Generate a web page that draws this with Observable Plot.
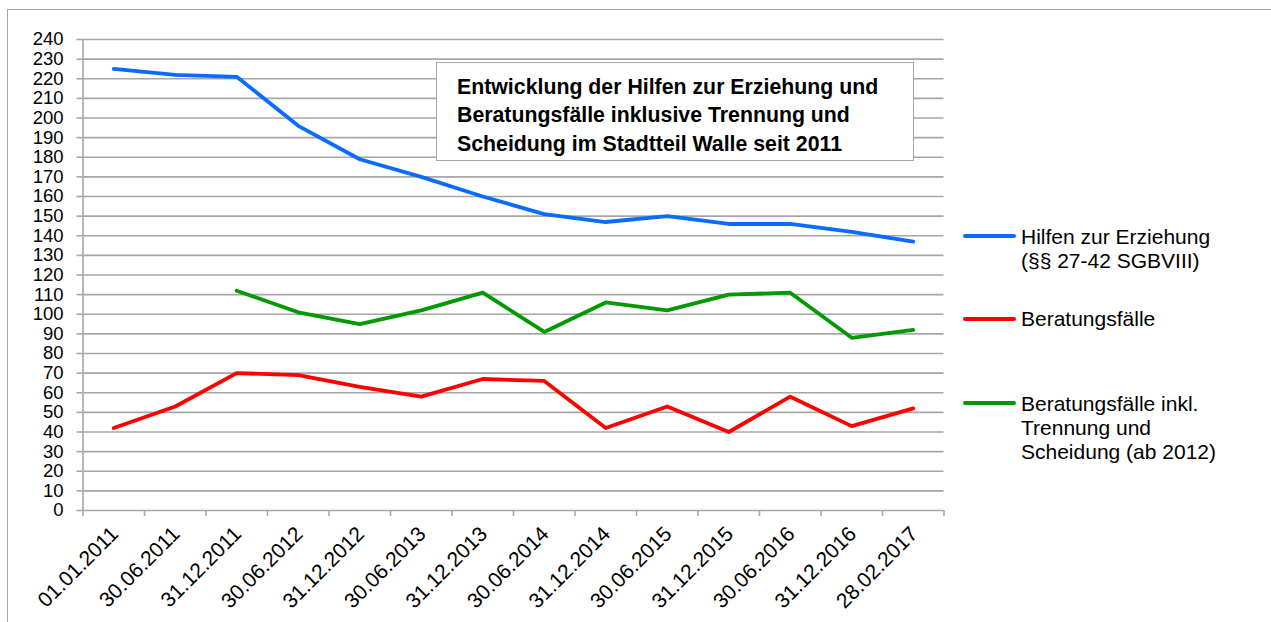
<!DOCTYPE html>
<html>
<head>
<meta charset="utf-8">
<script src="https://cdn.jsdelivr.net/npm/d3@7"></script>
<script src="https://cdn.jsdelivr.net/npm/@observablehq/plot@0.6"></script>
<style>
  html, body { margin: 0; padding: 0; background: #fff; }
  body { font-family: "Liberation Sans", Arial, sans-serif; }
  #wrap { position: relative; width: 1271px; height: 622px; overflow: hidden; }
  #frame { position: absolute; left: 7px; top: 9px; width: 1400px; height: 800px;
           border-left: 1.5px solid #a6a6a6; border-top: 1.5px solid #a6a6a6; box-sizing: border-box; }
  #titlebox { position: absolute; left: 436px; top: 62px; width: 478px; height: 99px; box-sizing: border-box;
              border: 1.5px solid #a6a6a6; background: #fff; }
  #titletext { position: absolute; left: 457px; top: 72.5px; font-weight: bold; font-size: 21.3px;
               line-height: 28.5px; color: #000; white-space: nowrap; }
  .leg { position: absolute; left: 1021px; font-size: 21px; line-height: 24px; color: #000; white-space: nowrap; }
  .sw { position: absolute; left: 963px; width: 53px; height: 4px; border-radius: 2px; }
  #chart { position: absolute; left: 0; top: 0; }
</style>
</head>
<body>
<div id="wrap">
  <div id="frame"></div>
  <div id="chart"></div>
  <div id="titlebox"></div>
  <div id="titletext"></div>
  <div id="legend"></div>
</div>
<script>
// ---- data ----
const dates = ["01.01.2011","30.06.2011","31.12.2011","30.06.2012","31.12.2012","30.06.2013","31.12.2013",
               "30.06.2014","31.12.2014","30.06.2015","31.12.2015","30.06.2016","31.12.2016","28.02.2017"];
const hilfen = [225, 222, 221, 196, 179, 170, 160, 151, 147, 150, 146, 146, 142, 137];
const beratung = [42, 53, 70, 69, 63, 58, 67, 66, 42, 53, 40, 58, 43, 52];
const beratungInkl = [null, null, 112, 101, 95, 102, 111, 91, 106, 102, 110, 111, 88, 92];
const yTicks = d3.range(0, 241, 10);
const seriesNames = ["Hilfen zur Erziehung\n(§§ 27-42 SGBVIII)", "Beratungsfälle", "Beratungsfälle inkl.\nTrennung und\nScheidung (ab 2012)"];
const seriesColors = ["#0a6cff", "#ff0000", "#009a00"];
const titleLines = ["Entwicklung der Hilfen zur Erziehung und", "Beratungsfälle inklusive Trennung und", "Scheidung im Stadtteil Walle seit 2011"];

// ---- table ----
const seriesValues = [hilfen, beratung, beratungInkl];
const table = [];
seriesValues.forEach((vals, s) => vals.forEach((v, i) => table.push({series: s, xi: i + 0.5, value: v})));

const font = "'Liberation Sans', Arial, sans-serif";

const chart = Plot.plot({
  width: 1271,
  height: 622,
  marginLeft: 82.5,
  marginRight: 327.5,
  marginTop: 39,
  marginBottom: 112,
  style: {fontFamily: font, background: "transparent", color: "#000"},
  x: {type: "linear", domain: [0, dates.length], axis: null},
  y: {type: "linear", domain: [0, 240], axis: null},
  marks: [
    Plot.ruleY(yTicks, {stroke: "#a6a6a6", strokeWidth: 1.6}),
    Plot.axisY({ticks: yTicks, tickSize: 6, tickPadding: 13.5, stroke: "#a6a6a6", strokeWidth: 1.6,
                fill: "#000", fontSize: 18.5, label: null, tickFormat: d => String(d)}),
    Plot.axisX({ticks: d3.range(0, dates.length + 1), tickSize: 6, stroke: "#a6a6a6", strokeWidth: 1.6,
                tickFormat: () => "", label: null}),
    Plot.ruleX([0], {y1: 0, y2: 240, stroke: "#a6a6a6", strokeWidth: 1.6}),
    ...seriesValues.map((vals, s) =>
      Plot.line(table.filter(d => d.series === s && d.value != null),
        {x: "xi", y: "value", stroke: seriesColors[s], strokeWidth: 3.8, strokeLinejoin: "round", strokeLinecap: "round"})),
    Plot.text(dates, {x: (d, i) => i + 0.5, y: () => 0, text: d => d, dy: 20, dx: 1, rotate: -45,
                      textAnchor: "end", fontSize: 21, fill: "#000"})
  ]
});
document.getElementById("chart").appendChild(chart);

// title
document.getElementById("titletext").innerHTML = titleLines.join("<br>");

// legend
const legTops = [225, 307, 391.5];
const swY = [234, 317.3, 401.3];
const leg = document.getElementById("legend");
seriesNames.forEach((name, s) => {
  const sw = document.createElement("div");
  sw.className = "sw";
  sw.style.top = swY[s] + "px";
  sw.style.background = seriesColors[s];
  leg.appendChild(sw);
  const t = document.createElement("div");
  t.className = "leg";
  t.style.top = legTops[s] + "px";
  t.innerHTML = name.split("\n").join("<br>");
  leg.appendChild(t);
});
</script>
</body>
</html>
